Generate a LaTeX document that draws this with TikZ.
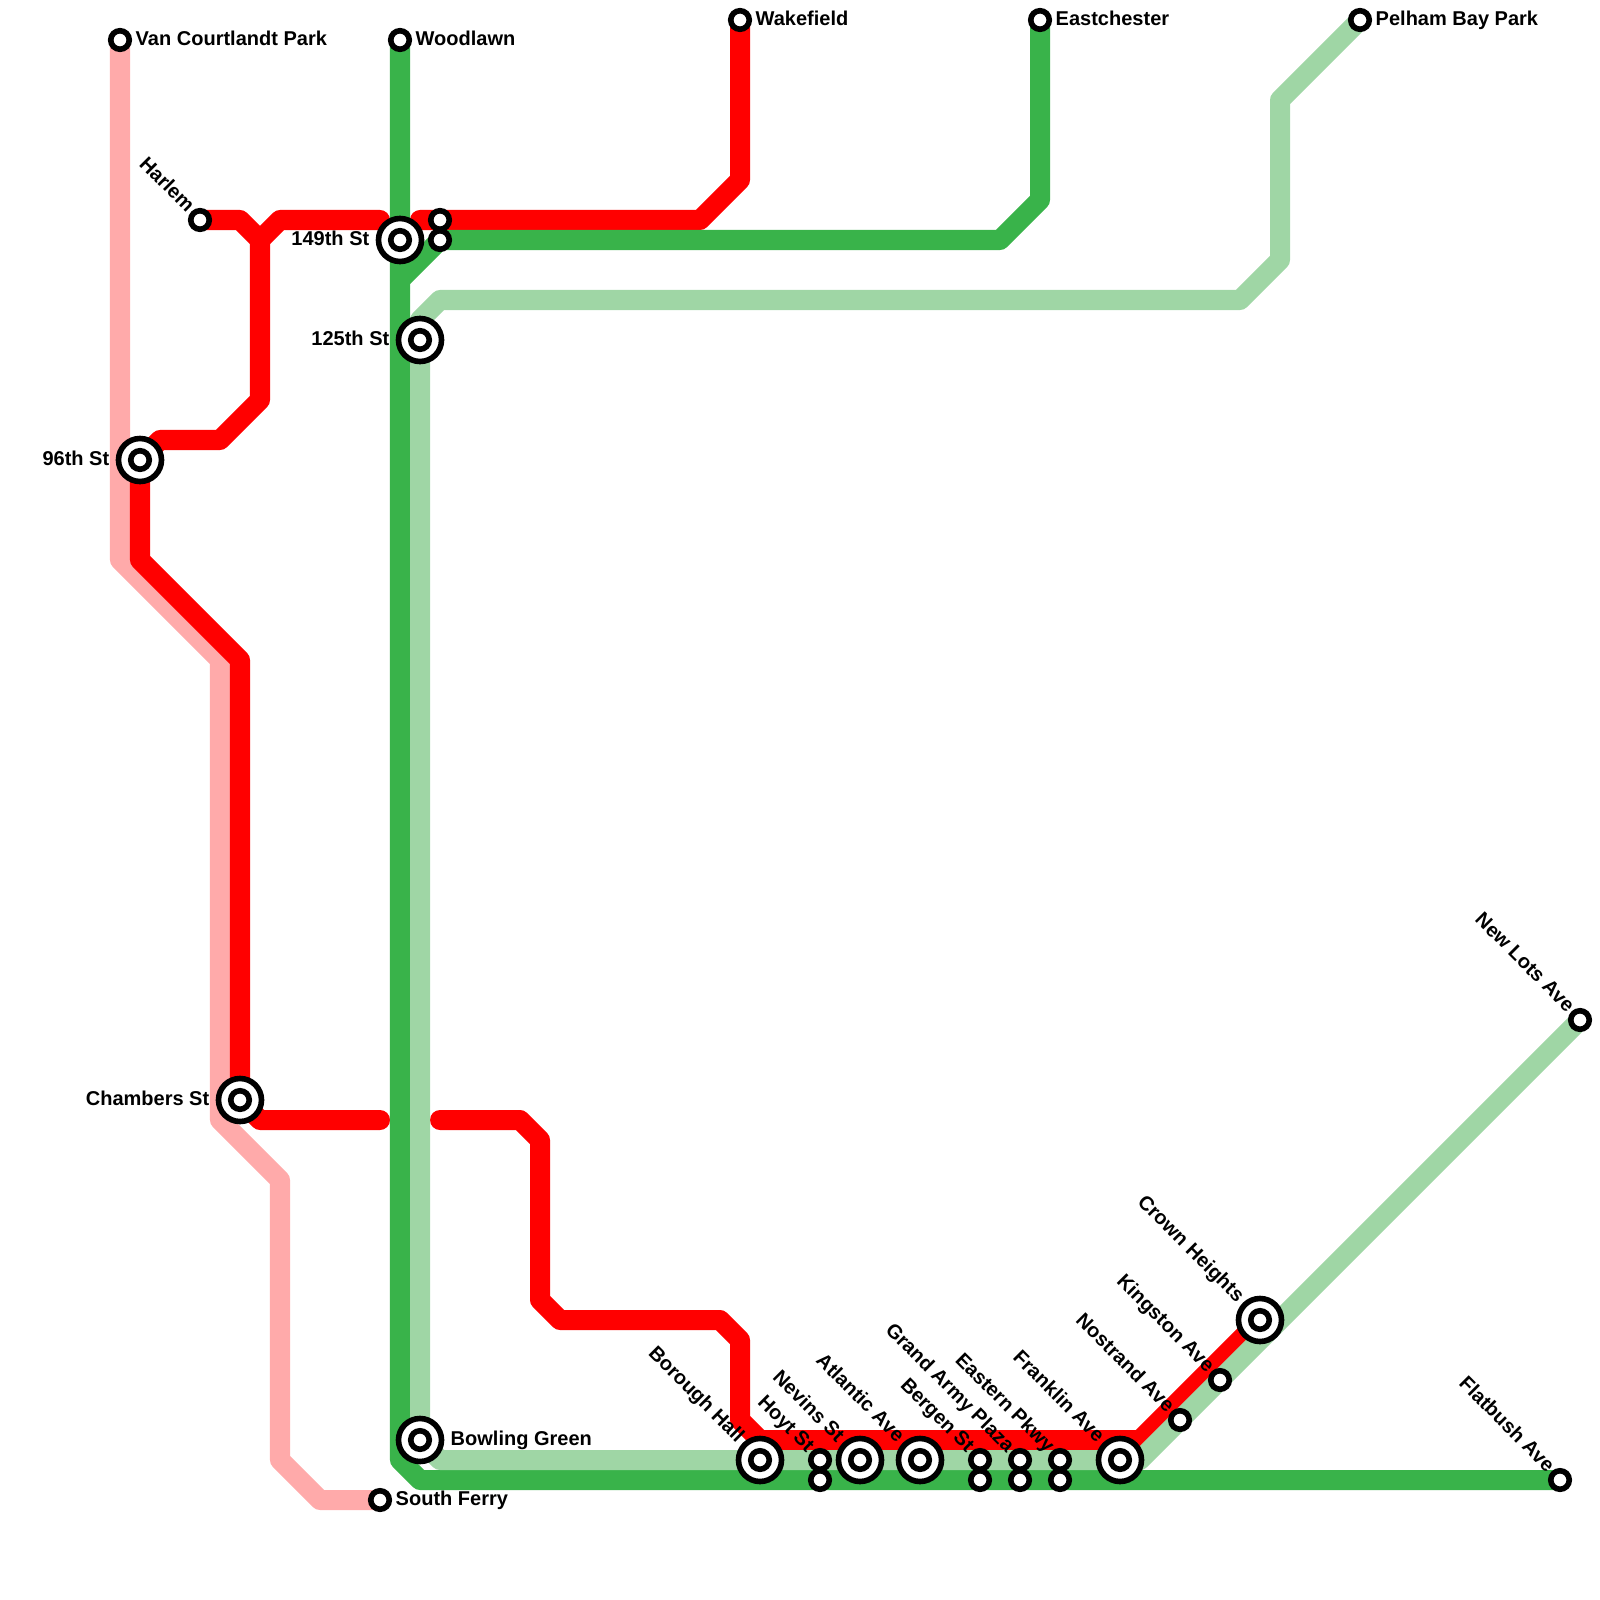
\documentclass[tikz,border=0pt]{standalone}
\usepackage{fontspec}
\setmainfont{Liberation Sans}
\definecolor{lpink}{HTML}{FFAAAA}
\definecolor{lred}{HTML}{FF0000}
\definecolor{lgreen}{HTML}{39B34A}
\definecolor{lpale}{HTML}{9FD6A5}
\tikzset{
  route/.style={line width=.2cm,line cap=round,line join=round},
  stop/.style={circle,draw=black,fill=white,line width=.056cm,minimum size=.185cm,inner sep=0pt,outer sep=0pt},
  hub/.style={stop,minimum size=.43cm},
  stname/.style={font=\fontsize{5.69pt}{6pt}\selectfont\bfseries,inner sep=0pt},
  east small/.style={stname,xshift=.15cm,yshift=.037cm,anchor=mid west},
  east hub/.style={stname,xshift=.3cm,yshift=.037cm,anchor=mid west},
  west hub/.style={stname,xshift=-.3cm,yshift=.037cm,anchor=mid east},
  slant small/.style={stname,xshift=-.065cm,yshift=.13cm,rotate=-45,anchor=mid east},
  slant hub/.style={stname,xshift=-.165cm,yshift=.23cm,rotate=-45,anchor=mid east},
}
\begin{document}
\begin{tikzpicture}[x=.01cm,y=-.01cm]
  \useasboundingbox (0,0) rectangle (1600,1600);
  % stations
  \coordinate (vc) at (120,40);
  \coordinate (wl) at (400,40);
  \coordinate (wf) at (740,20);
  \coordinate (ec) at (1040,20);
  \coordinate (pb) at (1360,20);
  \coordinate (hm) at (200,220);
  \coordinate (st149) at (400,240);
  \coordinate (xa) at (440,220);
  \coordinate (xb) at (440,240);
  \coordinate (st125) at (420,340);
  \coordinate (st96) at (140,460);
  \coordinate (cb) at (240,1100);
  \coordinate (bg) at (420,1440);
  \coordinate (sf) at (380,1500);
  \coordinate (bh) at (760,1460);
  \coordinate (hy) at (820,1460);
  \coordinate (hyb) at (820,1480);
  \coordinate (nv) at (860,1460);
  \coordinate (at) at (920,1460);
  \coordinate (bn) at (980,1460);
  \coordinate (bnb) at (980,1480);
  \coordinate (ga) at (1020,1460);
  \coordinate (gab) at (1020,1480);
  \coordinate (ep) at (1060,1460);
  \coordinate (epb) at (1060,1480);
  \coordinate (fk) at (1120,1460);
  \coordinate (ns) at (1180,1420);
  \coordinate (kg) at (1220,1380);
  \coordinate (ch) at (1260,1320);
  \coordinate (nl) at (1580,1020);
  \coordinate (fb) at (1560,1480);
  % the pink line
  \coordinate (p1) at (120,560);
  \coordinate (p2) at (220,660);
  \coordinate (p3) at (220,1120);
  \coordinate (p4) at (280,1180);
  \coordinate (p5) at (280,1460);
  \coordinate (p6) at (320,1500);
  \draw[route,lpink] (vc)--(p1)--(p2)--(p3)--(p4)--(p5)--(p6)--(sf);
  % the red lines
  \coordinate (r1) at (240,220);
  \coordinate (r2) at (260,240);
  \coordinate (r3) at (280,220);
  \coordinate (r4) at (380,220);
  \coordinate (r5) at (260,400);
  \coordinate (r6) at (220,440);
  \coordinate (r7) at (160,440);
  \coordinate (r8) at (140,560);
  \coordinate (r9) at (240,660);
  \coordinate (r10) at (260,1120);
  \coordinate (r11) at (380,1120);
  \coordinate (r12) at (440,1120);
  \coordinate (r13) at (520,1120);
  \coordinate (r14) at (540,1140);
  \coordinate (r15) at (540,1300);
  \coordinate (r16) at (560,1320);
  \coordinate (r17) at (720,1320);
  \coordinate (r18) at (740,1340);
  \coordinate (r19) at (740,1420);
  \coordinate (r20) at (760,1440);
  \coordinate (r21) at (1140,1440);
  \coordinate (r22) at (740,180);
  \coordinate (r23) at (700,220);
  \coordinate (r24) at (420,220);
  \draw[route,lred] (hm)--(r1)--(r2)--(r3)--(r4);
  \draw[route,lred] (r2)--(r5)--(r6)--(r7)--(st96)--(r8)--(r9)--(cb)--(r10)--(r11);
  \draw[route,lred] (r12)--(r13)--(r14)--(r15)--(r16)--(r17)--(r18)--(r19)--(r20)--(r21)--(ch);
  \draw[route,lred] (wf)--(r22)--(r23)--(r24);
  % the green lines
  \coordinate (g1) at (400,1460);
  \coordinate (g2) at (420,1480);
  \coordinate (g3) at (400,280);
  \coordinate (g4) at (1000,240);
  \coordinate (g5) at (1040,200);
  \draw[route,lgreen] (wl)--(g1)--(g2)--(fb);
  \draw[route,lgreen] (g3)--(xb)--(g4)--(g5)--(ec);
  \coordinate (l1) at (1280,100);
  \coordinate (l2) at (1280,260);
  \coordinate (l3) at (1240,300);
  \coordinate (l4) at (440,300);
  \coordinate (l5) at (420,320);
  \coordinate (l6) at (440,1460);
  \coordinate (l7) at (1140,1460);
  \draw[route,lpale] (pb)--(l1)--(l2)--(l3)--(l4)--(l5)--(bg)--(l6)--(l7)--(nl);
  % station marks
  \node[stop] (nvc) at (vc) {};
  \node[stop] (nwl) at (wl) {};
  \node[stop] (nwf) at (wf) {};
  \node[stop] (nec) at (ec) {};
  \node[stop] (npb) at (pb) {};
  \node[stop] (nhm) at (hm) {};
  \node[stop] (nxa) at (xa) {};
  \node[stop] (nxb) at (xb) {};
  \node[stop] (nsf) at (sf) {};
  \node[stop] (nhy) at (hy) {};
  \node[stop] (nhyb) at (hyb) {};
  \node[stop] (nbn) at (bn) {};
  \node[stop] (nbnb) at (bnb) {};
  \node[stop] (nga) at (ga) {};
  \node[stop] (ngab) at (gab) {};
  \node[stop] (nep) at (ep) {};
  \node[stop] (nepb) at (epb) {};
  \node[stop] (nns) at (ns) {};
  \node[stop] (nkg) at (kg) {};
  \node[stop] (nnl) at (nl) {};
  \node[stop] (nfb) at (fb) {};
  \foreach \s in {st149,st125,st96,cb,bg,bh,nv,at,fk,ch} {
    \node[hub] (h\s) at (\s) {};
    \node[stop] (n\s) at (\s) {};
  }
  % names
  \node[east small] (tvc) at (vc) {Van Courtlandt Park};
  \node[east small] (twl) at (wl) {Woodlawn};
  \node[east small] (twf) at (wf) {Wakefield};
  \node[east small] (tec) at (ec) {Eastchester};
  \node[east small] (tpb) at (pb) {Pelham Bay Park};
  \node[east small] (tsf) at (sf) {South Ferry};
  \node[east hub] (tbg) at (bg) {Bowling Green};
  \node[west hub] (t149) at (st149) {149th St};
  \node[west hub] (t125) at (st125) {125th St};
  \node[west hub] (t96) at (st96) {96th St};
  \node[west hub] (tcb) at (cb) {Chambers St};
  \node[slant small] (thm) at (hm) {Harlem};
  \node[slant hub] (tbh) at (bh) {Borough Hall};
  \node[slant small] (thy) at (hy) {Hoyt St};
  \node[slant hub] (tnv) at (nv) {Nevins St};
  \node[slant hub] (tat) at (at) {Atlantic Ave};
  \node[slant small] (tbn) at (bn) {Bergen St};
  \node[slant small] (tga) at (ga) {Grand Army Plaza};
  \node[slant small] (tep) at (ep) {Eastern Pkwy};
  \node[slant hub] (tfk) at (fk) {Franklin Ave};
  \node[slant small] (tns) at (ns) {Nostrand Ave};
  \node[slant small] (tkg) at (kg) {Kingston Ave};
  \node[slant hub] (tch) at (ch) {Crown Heights};
  \node[slant small] (tnl) at (nl) {New Lots Ave};
  \node[slant small] (tfb) at (fb) {Flatbush Ave};
\end{tikzpicture}
\end{document}
